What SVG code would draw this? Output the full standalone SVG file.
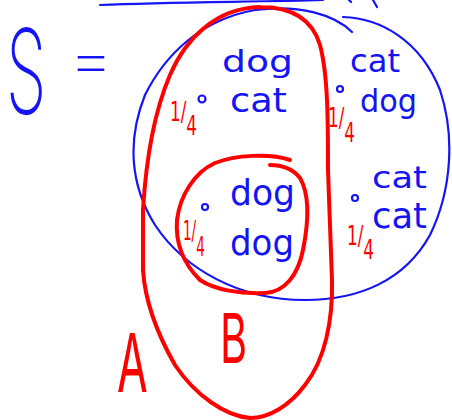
<svg xmlns="http://www.w3.org/2000/svg" width="452" height="420" viewBox="0 0 452 420">
<style>
.b{fill:none;stroke:#1414f5;stroke-width:2.2;stroke-linecap:round;stroke-linejoin:round}
.r{fill:none;stroke:#ff0000;stroke-width:4;stroke-linecap:round;stroke-linejoin:round}
.bt{fill:#1414f5;font-family:"DejaVu Sans",sans-serif}
.rt{fill:#ff0000;font-family:"DejaVu Sans",sans-serif}
.big{font-family:Inter,"DejaVu Sans",sans-serif}
.q{font-size:27px}
</style>
<rect width="452" height="420" fill="#ffffff"/>
<g id="top-marks">
<path class="b" d="M100,5 C170,2 260,2 323,0"/>
<path class="b" d="M349,0 L351,2"/>
<path class="b" d="M373,0 L377,7"/>
</g>
<g id="S-label">
<text class="bt big" transform="translate(6,114) scale(0.55,1)" font-size="118" font-weight="200">S</text>
<text class="bt big" transform="translate(68,81) scale(1.15,1)" font-size="62" font-weight="200">=</text>
</g>
<g id="S-circle">
<path class="b" d="M343,17 C380,18 420,40 440,90 C455,135 452,190 430,235 C405,280 360,300 305,300 C240,300 185,270 155,225 C130,185 127,140 145,95 C165,55 200,20 255,10 C300,4 335,15 352,32"/>
</g>
<g id="A-set">
<path class="r" d="M260,7 C290,7 312,18 320,45 C328,75 328,120 328,170 L332,280 C333,320 325,360 305,385 C290,405 270,418 250,418 C225,416 195,395 175,365 C155,330 145,300 143,270 L143,210 C146,160 155,110 170,75 C185,40 215,8 260,7"/>
<text class="rt big" transform="translate(117,392) scale(0.55,1)" font-size="81" font-weight="400">A</text>
</g>
<g id="B-set">
<path class="r" d="M290,160 C270,153 235,155 215,163 C195,172 180,195 177,220 C175,245 185,265 200,280 C215,290 240,294 265,293 C285,292 298,275 303,250 C308,225 310,195 300,178 C292,168 282,165 270,165"/>
<text class="rt big" transform="translate(220,363) scale(0.6,1)" font-size="69" font-weight="400">B</text>
</g>
<g id="outcome-dog-cat">
<circle class="b" cx="202" cy="99" r="3.5"/>
<text class="bt" x="222" y="72" font-size="31" textLength="71" lengthAdjust="spacingAndGlyphs">dog</text>
<text class="bt" x="230" y="112" font-size="34" textLength="57" lengthAdjust="spacingAndGlyphs">cat</text>
<text class="rt q" transform="translate(170,121) scale(0.62,1)"><tspan>1</tspan><tspan>/</tspan><tspan dy="14">4</tspan></text>
</g>
<g id="outcome-cat-dog">
<circle class="b" cx="340" cy="89" r="3"/>
<text class="bt" x="350" y="72" font-size="32" textLength="50" lengthAdjust="spacingAndGlyphs">cat</text>
<text class="bt" x="360" y="112" font-size="32" textLength="57" lengthAdjust="spacingAndGlyphs">dog</text>
<text class="rt q" transform="translate(328,127) scale(0.62,1)"><tspan>1</tspan><tspan>/</tspan><tspan dy="15">4</tspan></text>
</g>
<g id="outcome-dog-dog">
<circle class="b" cx="205" cy="207" r="3"/>
<text class="bt" x="230" y="205" font-size="35" textLength="65" lengthAdjust="spacingAndGlyphs">dog</text>
<text class="bt" x="230" y="255" font-size="35" textLength="64" lengthAdjust="spacingAndGlyphs">dog</text>
<text class="rt q" transform="translate(183,240) scale(0.5,1)"><tspan>1</tspan><tspan>/</tspan><tspan dy="16">4</tspan></text>
</g>
<g id="outcome-cat-cat">
<circle class="b" cx="355" cy="198" r="3"/>
<text class="bt" x="372" y="188" font-size="31" textLength="55" lengthAdjust="spacingAndGlyphs">cat</text>
<text class="bt" x="372" y="228" font-size="35" textLength="55" lengthAdjust="spacingAndGlyphs">cat</text>
<text class="rt q" transform="translate(347,245) scale(0.62,1)"><tspan>1</tspan><tspan>/</tspan><tspan dy="14">4</tspan></text>
</g>
<g id="connectors"></g>
</svg>
